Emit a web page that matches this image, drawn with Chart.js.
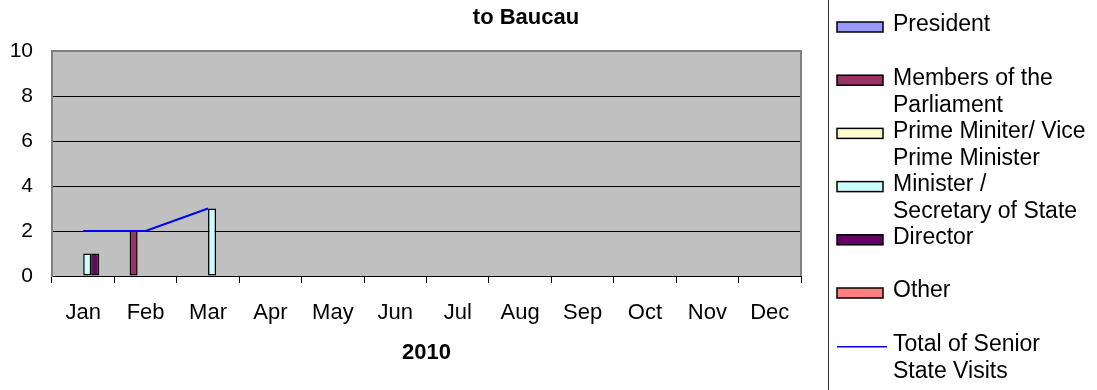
<!DOCTYPE html>
<html>
<head>
<meta charset="utf-8">
<title>Senior State Visits to Baucau 2010</title>
<script src="https://cdn.jsdelivr.net/npm/chart.js@4/dist/chart.umd.min.js"></script>
<style>
  html, body { margin: 0; padding: 0; background: #fff; }
  canvas { display: block; }
</style>
</head>
<body>
<canvas id="chart" width="1097" height="390"></canvas>
<script>
// ── Data ───────────────────────────────────────────────
const months = ['Jan', 'Feb', 'Mar', 'Apr', 'May', 'Jun', 'Jul', 'Aug', 'Sep', 'Oct', 'Nov', 'Dec'];
const yearLabel = '2010';
const chartTitle = 'to Baucau';

const president   = [0, 0, 0, null, null, null, null, null, null, null, null, null];
const parliament  = [0, 2, 0, null, null, null, null, null, null, null, null, null];
const primeMin    = [0, 0, 0, null, null, null, null, null, null, null, null, null];
const minister    = [1, 0, 3, null, null, null, null, null, null, null, null, null];
const director    = [1, 0, 0, null, null, null, null, null, null, null, null, null];
const other       = [0, 0, 0, null, null, null, null, null, null, null, null, null];
const totalVisits = [2, 2, 3, null, null, null, null, null, null, null, null, null];

const yTicks = [0, 2, 4, 6, 8, 10];

// legend text, wrapped the same way the legend box wraps it
const seriesNames = [
  ['President'],
  ['Members of the', 'Parliament'],
  ['Prime Miniter/ Vice', 'Prime Minister'],
  ['Minister /', 'Secretary of State'],
  ['Director'],
  ['Other'],
  ['Total of Senior', 'State Visits'],
];
const seriesColors = ['#9999FF', '#993366', '#FFFFCC', '#CCFFFF', '#660066', '#FF8080', '#0000FF'];

// ── Helpers ────────────────────────────────────────────
const FONT = '"Liberation Sans", Arial, sans-serif';
Chart.defaults.font.family = FONT;
Chart.defaults.color = '#000';

function barSet(i, data) {
  return {
    type: 'bar',
    label: seriesNames[i].join(' '),
    data,
    backgroundColor: seriesColors[i],
    borderColor: '#000',
    borderWidth: 1.5,
    borderSkipped: false,
    order: 1,
  };
}

// grey plot area, its frame, the title and the boxed legend
const decor = {
  id: 'decor',
  beforeDraw(chart) {
    const { ctx, chartArea: a } = chart;
    ctx.save();
    ctx.fillStyle = '#C0C0C0';
    ctx.fillRect(a.left, a.top, a.right - a.left, a.bottom - a.top);
    ctx.restore();
  },
  afterDraw(chart) {
    const { ctx, chartArea: a } = chart;
    ctx.save();
    // right edge of the plot frame
    ctx.strokeStyle = '#808080';
    ctx.lineWidth = 2;
    ctx.beginPath();
    ctx.moveTo(a.right, a.top - 1);
    ctx.lineTo(a.right, a.bottom);
    ctx.stroke();

    // title
    ctx.fillStyle = '#000';
    ctx.font = 'bold 22px ' + FONT;
    ctx.textAlign = 'center';
    ctx.textBaseline = 'middle';
    ctx.fillText(chartTitle, 526, 18);

    // legend box
    ctx.strokeStyle = '#333';
    ctx.lineWidth = 1;
    ctx.strokeRect(828.5, -2, 400, 400);

    ctx.font = '23px ' + FONT;
    ctx.textAlign = 'left';
    chart.data.datasets.forEach((ds, i) => {
      const y = 25 + i * 53.2;
      const lines = seriesNames[i];
      if (ds.type === 'line') {
        ctx.strokeStyle = ds.borderColor;
        ctx.lineWidth = 1.5;
        ctx.beginPath();
        ctx.moveTo(837, y + 2.5);
        ctx.lineTo(887, y + 2.5);
        ctx.stroke();
      } else {
        ctx.fillStyle = ds.backgroundColor;
        ctx.fillRect(837, y - 3, 46, 10);
        ctx.strokeStyle = '#000';
        ctx.lineWidth = 1.5;
        ctx.strokeRect(837, y - 3, 46, 10);
      }
      ctx.fillStyle = '#000';
      lines.forEach((t, k) => ctx.fillText(t, 893, y + k * 27.5));
    });
    ctx.restore();
  },
};

// ── Chart ──────────────────────────────────────────────
new Chart(document.getElementById('chart'), {
  type: 'bar',
  data: {
    labels: months,
    datasets: [
      barSet(0, president),
      barSet(1, parliament),
      barSet(2, primeMin),
      barSet(3, minister),
      barSet(4, director),
      barSet(5, other),
      {
        type: 'line',
        label: seriesNames[6].join(' '),
        data: totalVisits,
        borderColor: seriesColors[6],
        borderWidth: 2,
        pointRadius: 0,
        tension: 0,
        fill: false,
        spanGaps: false,
        order: 0,
      },
    ],
  },
  options: {
    responsive: false,
    animation: false,
    layout: { padding: { left: 0, right: 296, top: 51, bottom: 0 } },
    datasets: { bar: { categoryPercentage: 0.77, barPercentage: 1.0 } },
    plugins: {
      legend: { display: false },
      title: { display: false },
      tooltip: { enabled: false },
    },
    scales: {
      x: {
        grid: { drawOnChartArea: false, drawTicks: true, tickLength: 7, color: '#000' },
        border: { color: '#000', width: 1 },
        ticks: { font: { size: 22 }, padding: 17, maxRotation: 0, autoSkip: false },
        title: { display: true, text: yearLabel, font: { size: 22, weight: 'bold' }, padding: { top: 0, bottom: 24 } },
        afterFit(scale) { scale.height = 114; },
      },
      y: {
        min: 0,
        max: 10,
        afterBuildTicks(scale) { scale.ticks = yTicks.map(v => ({ value: v })); },
        grid: {
          drawTicks: false,
          color: ctx => (ctx.tick && ctx.tick.value === 10 ? '#808080' : '#000'),
          lineWidth: ctx => (ctx.tick && ctx.tick.value === 10 ? 2 : 1),
        },
        border: { color: '#808080', width: 2 },
        ticks: { font: { size: 21 }, padding: 19 },
        afterFit(scale) { scale.width = 52; },
      },
    },
  },
  plugins: [decor],
});
</script>
</body>
</html>
